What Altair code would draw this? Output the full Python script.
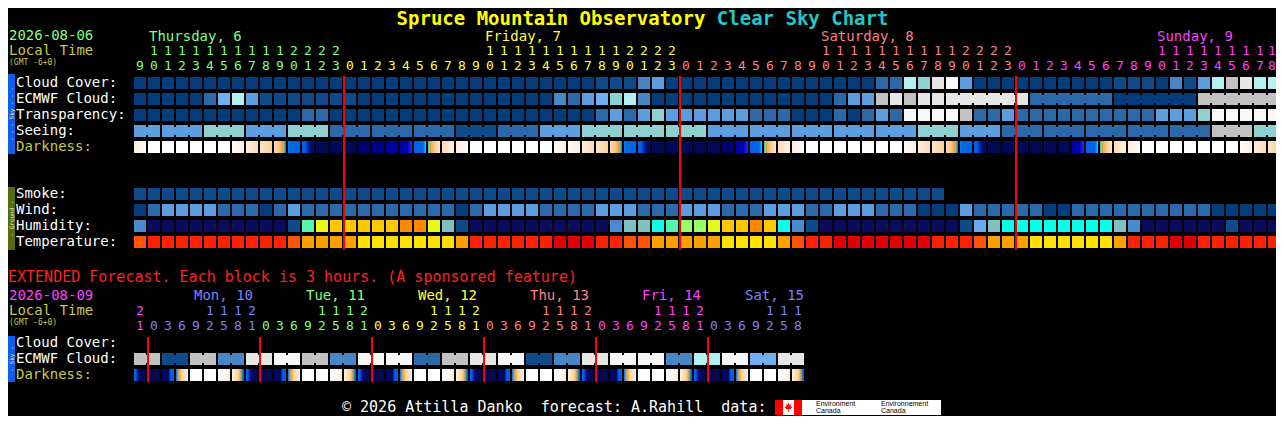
import altair as alt

# ============ chart values ============
TITLE_SITE = "Spruce Mountain Observatory"
TITLE_CHART = "Clear Sky Chart"
DATE_MAIN = "2026-08-06"
DATE_EXT = "2026-08-09"
LOCAL_TIME = "Local Time"
GMT_NOTE = "(GMT -6+0)"
EXT_NOTE = "EXTENDED Forecast. Each block is 3 hours. (A sponsored feature)"
FOOTER = "\u00a9 2026 Attilla Danko\u00a0\u00a0forecast: A.Rahill\u00a0\u00a0data:"
LOGO_EN = ["Environment", "Canada"]
LOGO_FR = ["Environnement", "Canada"]
SIDE_SKY = "- - - Sky - - -"
SIDE_GROUND = "- Ground -"
SIDE_EXT = "- Sky -"

DAYS_MAIN = ["Thursday, 6", "Friday, 7", "Saturday, 8", "Sunday, 9"]
HOURS_MAIN = [list(range(9, 24)), list(range(24)), list(range(24)), list(range(19))]

DAYS_EXT = ["", "Mon, 10", "Tue, 11", "Wed, 12", "Thu, 13", "Fri, 14", "Sat, 15"]
HOURS_EXT = [[21]] + [[0, 3, 6, 9, 12, 15, 18, 21] for _ in range(5)] + [[0, 3, 6, 9, 12, 15, 18]]

SKY_LABELS = ["Cloud Cover:", "ECMWF Cloud:", "Transparency:", "Seeing:", "Darkness:"]
GROUND_LABELS = ["Smoke:", "Wind:", "Humidity:", "Temperature:"]
EXT_LABELS = ["Cloud Cover:", "ECMWF Cloud:", "Darkness:"]

# hourly codes, Thu 09h .. Sun 18h (82 hours)
CLOUD_COVER = list("0" * 33 + "11134" + "0" * 15 + "22769W4" + "0" * 10 + "111031478977")
ECMWF_HOURLY = list("00000" + "2574" + "1" * 7 + "0" * 14 + "3245673" + "0" * 12 + "024489899")
ECMWF_6H = list("9208")
TRANSPARENCY = list("0" * 12 + "22" + "0" * 19 + "24246" + "4" * 6 + "222" + "000" + "20242"
                    + "WWWW" + "8" + "22" + "4" + "2" * 10 + "444" + "6" + "W" * 5)
SEEING_3H = list("4464622212466644444642222286")
DARKNESS = (["m1"] + ["W"] * 6 + ["c1", "c2", "c3", "ev", "B", "BN", "N", "N"]
            + ["N", "N2", "N3", "N4", "NB", "mB", "mo", "m2", "m1"] + ["W"] * 6
            + ["c1", "c1", "c2", "c3", "ev", "B", "BN", "N", "N"]
            + ["N", "N", "N", "N2", "NB", "mB", "mo", "m2", "m1"] + ["W"] * 7
            + ["c1", "c2", "c3", "ev", "B", "BN", "N", "N"]
            + ["N", "N", "N", "N", "NB", "mB", "mo", "m2", "m1"] + ["W"] * 7
            + ["c1", "c2", "c3"])
SMOKE = ["1"] * 58
WIND = list("0" + "2" + "4444" + "222" + "0" + "2" + "4" + "2" * 11 + "0" + "2" + "4444" + "2222"
            + "444" + "222" + "444" + "222" + "444" + "22" + "444" + "222" + "000" + "4"
            + "22222" + "00" + "2" * 10 + "00000")
HUMIDITY = list("b" + "n" * 10 + "d" + "a" + "y" + "o" * 5 + "rr" + "y" + "t" + "d" + "n" * 10
                + "b" + "tt" + "c" + "a" + "gg" + "y" + "oo" + "r" + "o" + "c" + "b" + "d"
                + "n" * 10 + "d" + "l" + "t" + "c" * 8 + "t" + "b" + "n" * 6 + "d" + "nnn")
TEMPERATURE = list("A" + "R" * 10 + "A" + "O" * 4 + "Y" * 7 + "O" + "R" * 6 + "D" * 3 + "RR" + "AA"
                   + "O" * 5 + "Y" * 4 + "O" + "A" + "RR" + "D" * 7 + "RRR" + "A" + "OOO"
                   + "Y" * 6 + "O" + "RRR" + "DD" + "R" * 6)

# extended forecast, 3-hour blocks, Sun 21h .. Sat 18h (48 blocks)
EXT_ECMWF_6H = ["8", "1", "8", "3", "9", "W", "8", "3", "W", "W", "2", "8",
                "9", "W", "1", "3", "9", "W", "W", "3", "7", "W", "5", "9"]
EXT_DARKNESS = (["X21"] + ["X0", "X3", "X6", "W", "W", "X15", "X18", "X21"] * 5
                + ["X0", "X3", "X6", "W", "W", "X15", "X18"])

# ============ styles ============
FONT = "DejaVu Sans Mono"
HEAD_SIZE = 14
DIGIT_SIZE = 13
TITLE_SIZE = 19
SIDE_SIZE = 6
CLOUD_PAL = {"0": "#033d7b", "1": "#0f4b8b", "2": "#2b69ab", "3": "#4886c8", "4": "#5c9de0",
             "5": "#70aef2", "6": "#8fd0d0", "7": "#b0f2f2", "8": "#c2c2c2", "9": "#e6e6e6",
             "W": "#f8f8f8"}
HUM_PAL = {"n": "#0b0b5e", "d": "#0d4a8a", "b": "#4a8ad0", "l": "#6aaaf0", "t": "#80c0c0",
           "c": "#0affe8", "a": "#55f5b0", "g": "#96ff6a", "y": "#e8f818", "o": "#ffc800",
           "r": "#ff8800"}
TEMP_PAL = {"A": "#ff5500", "R": "#ff2000", "D": "#e00000", "O": "#ffa000", "Y": "#ffe000"}
DARK_PAL = {
    "W": "#ffffff",
    "N": "#00085a", "N2": "#00006e", "N3": "#000088", "N4": "#00009e",
    "c1": [(0, "#fffaf4"), (1, "#fdeedd")],
    "c2": [(0, "#fdf0e0"), (1, "#fbdcb4")],
    "c3": [(0, "#fde6c6"), (1, "#f9cf98")],
    "ev": [(0, "#fcdcb0"), (0.5, "#f8c070"), (0.72, "#f0a030"), (0.82, "#a8c050"),
           (0.9, "#20a8e8"), (1, "#0a70e8")],
    "B": [(0, "#1080f0"), (0.2, "#0064e6"), (1, "#0064e6")],
    "BN": [(0, "#0064e6"), (0.3, "#0058e0"), (0.45, "#0030b8"), (0.7, "#000c78"), (1, "#00085c")],
    "NB": [(0, "#0000a8"), (0.6, "#0000b8"), (1, "#2030e0")],
    "mB": [(0, "#0064e6"), (0.75, "#0064e6"), (0.9, "#1898f0"), (1, "#40c0e0")],
    "mo": [(0, "#30c0e8"), (0.1, "#80d0a0"), (0.2, "#f0a030"), (0.5, "#f8c888"), (1, "#fde6cc")],
    "m2": [(0, "#fcdcb4"), (1, "#fdf0e0")],
    "m1": [(0, "#fdeedd"), (1, "#fffaf4")],
    "X0": "#00085a",
    "X21": [(0, "#0064e6"), (0.15, "#0064e6"), (0.3, "#0020a0"), (0.45, "#00085a"), (1, "#00085a")],
    "X3": [(0, "#00085a"), (0.55, "#00085a"), (0.62, "#0030c0"), (0.75, "#0064e6"), (1, "#0064e6")],
    "X6": [(0, "#0064e6"), (0.12, "#30b0f0"), (0.22, "#f0a030"), (0.55, "#fbd8a8"), (1, "#fff6ec")],
    "X15": [(0, "#ffffff"), (1, "#fff0e0")],
    "X18": [(0, "#fdeedc"), (0.5, "#fbd4a0"), (0.7, "#f0a030"), (0.8, "#40a8e0"),
            (0.9, "#0064e6"), (1, "#0064e6")],
}
GREEN, YELLOW, SALMON, MAGENTA, VIOLET = "#80ff80", "#ffff40", "#ff8080", "#ff40ff", "#8080ff"
OLIVE = "#c8c850"
MAIN_DAY_COLORS = [GREEN, YELLOW, SALMON, MAGENTA]
EXT_DAY_COLORS = [MAGENTA, VIOLET, GREEN, YELLOW, SALMON, MAGENTA, VIOLET]

# ============ layout (page pixels) ============
X0, COL_W = 134, 14
CELL = 12 / 14
ROW_H = 12
JOIN = 2
SKY_TOP = [77, 93, 109, 125, 141]
GROUND_TOP = [188, 204, 220, 236]
EXT_TOP = [337, 353, 369]
RIGHT_EDGE = 1276
LEFT_EDGE = 8
LABEL_X = 16
BAR_X2 = 15


def px(x):
    return (x - X0) / COL_W


XS = alt.Scale(domain=[px(8), px(1276)], range=[0, 1268], zero=False, nice=False)
YS = alt.Scale(domain=[8, 416], range=[0, 408], zero=False, nice=False)

rects = []


def add_rect(x, x2, y, y2, fill):
    rects.append({"x": x, "x2": x2, "y": y, "y2": y2, "fill": fill})


def paint(code, pal):
    v = pal[code]
    if isinstance(v, list):
        return {"gradient": "linear", "x1": 0, "y1": 0, "x2": 1, "y2": 0,
                "stops": [{"offset": o, "color": c} for o, c in v]}
    return v


def hourly_row(codes, top, pal):
    for i, code in enumerate(codes):
        add_rect(i, i + CELL, top, top + ROW_H, paint(code, pal))


def block_row(codes, lengths, top, pal, start=0):
    c = start
    for code, n in zip(codes, lengths):
        fill = paint(code, pal)
        for k in range(n):
            add_rect(c + k, c + k + CELL, top, top + ROW_H, fill)
            if k < n - 1:
                add_rect(c + k + CELL, c + k + 1, top + JOIN, top + ROW_H - JOIN, fill)
        c += n


# main sky rows
hourly_row(CLOUD_COVER, SKY_TOP[0], CLOUD_PAL)
hourly_row(ECMWF_HOURLY, SKY_TOP[1], CLOUD_PAL)
block_row(ECMWF_6H, [6] * len(ECMWF_6H), SKY_TOP[1], CLOUD_PAL, start=len(ECMWF_HOURLY))
hourly_row(TRANSPARENCY, SKY_TOP[2], CLOUD_PAL)
seeing_len = [2] + [3] * (len(SEEING_3H) - 2) + [2]
block_row(SEEING_3H, seeing_len, SKY_TOP[3], CLOUD_PAL)
hourly_row(DARKNESS, SKY_TOP[4], DARK_PAL)
# ground rows
hourly_row(SMOKE, GROUND_TOP[0], CLOUD_PAL)
hourly_row(WIND, GROUND_TOP[1], CLOUD_PAL)
hourly_row(HUMIDITY, GROUND_TOP[2], HUM_PAL)
hourly_row(TEMPERATURE, GROUND_TOP[3], TEMP_PAL)
# extended rows
block_row(EXT_ECMWF_6H, [2] * len(EXT_ECMWF_6H), EXT_TOP[1], CLOUD_PAL)
hourly_row(EXT_DARKNESS, EXT_TOP[2], DARK_PAL)

# side bars + logo background
FOOT_Y = 407
BAR_SPANS = [(74, 154, "#0a60ee"), (187, 250, "#556b0c"), (336, 382, "#0a60ee")]
deco = []
for y0, y1, col in BAR_SPANS:
    deco.append({"x": px(LEFT_EDGE), "x2": px(BAR_X2), "y": y0, "y2": y1, "fill": col})
deco.append({"x": px(775), "x2": px(941), "y": FOOT_Y - 7, "y2": FOOT_Y + 8, "fill": "#ffffff"})
deco.append({"x": px(775), "x2": px(783), "y": FOOT_Y - 7, "y2": FOOT_Y + 8, "fill": "#ff0000"})
deco.append({"x": px(794), "x2": px(802), "y": FOOT_Y - 7, "y2": FOOT_Y + 8, "fill": "#ff0000"})

# midnight red lines
red = []
c = 0
for hrs in HOURS_MAIN[:-1]:
    c += len(hrs)
    red.append({"x": c - 1 / 14, "x2": c + 1 / 14, "y": 76, "y2": 250})
c = 0
for hrs in HOURS_EXT[:-1]:
    c += len(hrs)
    red.append({"x": c - 1 / 14, "x2": c + 1 / 14, "y": 337, "y2": 382})

# texts
left = []   # left aligned, regular
mid = []    # centred digits


def L(x, y, text, color, size=HEAD_SIZE):
    left.append({"x": x, "y": y, "text": text, "color": color, "size": size})


def digit_x(col):
    # centre of the column, pulled in just enough to stay inside the visible page
    x = col + CELL / 2
    half = 0.3 * DIGIT_SIZE / COL_W
    return min(x, px(RIGHT_EDGE) - half - 0.02)


L(px(9), 36, DATE_MAIN, GREEN)
L(px(9), 51, LOCAL_TIME, OLIVE)
L(px(9), 62.5, GMT_NOTE, OLIVE, 8)
c = 0
for name, hrs, col in zip(DAYS_MAIN, HOURS_MAIN, MAIN_DAY_COLORS):
    L(c + hrs.index(10) + 1 / 14, 37, name, col)
    for k, h in enumerate(hrs):
        mid.append({"x": digit_x(c + k), "y": 66, "text": str(h % 10), "color": col})
        if h >= 10:
            mid.append({"x": digit_x(c + k), "y": 51, "text": str(h // 10), "color": col})
    c += len(hrs)
for lab, top in zip(SKY_LABELS, SKY_TOP):
    L(px(LABEL_X), top + 5.5, lab, OLIVE if lab == "Darkness:" else "#ffffff")
for lab, top in zip(GROUND_LABELS, GROUND_TOP):
    L(px(LABEL_X), top + 5.5, lab, "#ffffff")

L(px(8), 276.5, EXT_NOTE, "#ff2020", 15)
L(px(9), 296, DATE_EXT, MAGENTA)
L(px(9), 311, LOCAL_TIME, OLIVE)
L(px(9), 322.5, GMT_NOTE, OLIVE, 8)
EXT_NUDGE = [0, 0, 0, 0, 0, 0, -9 / 14]
c = 0
for name, hrs, col, nudge in zip(DAYS_EXT, HOURS_EXT, EXT_DAY_COLORS, EXT_NUDGE):
    if name:
        L(c + 3 + 4 / 14 + nudge, 296, name, col)
    for k, h in enumerate(hrs):
        mid.append({"x": digit_x(c + k), "y": 326, "text": str(h % 10), "color": col})
        if h >= 10:
            mid.append({"x": digit_x(c + k), "y": 310.5, "text": str(h // 10), "color": col})
    c += len(hrs)
for lab, top in zip(EXT_LABELS, EXT_TOP):
    L(px(LABEL_X), top + 5.5, lab, OLIVE if lab == "Darkness:" else "#ffffff")

L(px(342), FOOT_Y, FOOTER, "#ffffff", 15)

logo_txt = []
for x0, lines in ((816, LOGO_EN), (881, LOGO_FR)):
    logo_txt.append({"x": px(x0), "y": FOOT_Y - 3, "text": lines[0]})
    logo_txt.append({"x": px(x0), "y": FOOT_Y + 4, "text": lines[1]})

# title centred where the reference's title is centred
char_w = 0.602 * TITLE_SIZE
n_chars = len(TITLE_SITE) + 1 + len(TITLE_CHART)
t_start = 642.5 - n_chars * char_w / 2
title = [{"x": px(t_start), "y": 18.5, "text": TITLE_SITE, "color": "#ffff00"},
         {"x": px(t_start + char_w * (len(TITLE_SITE) + 1)), "y": 18.5, "text": TITLE_CHART,
          "color": "#20c8c8"}]

side_x = px((LEFT_EDGE + BAR_X2) / 2 + 0.1)
side = [{"x": side_x, "y": (BAR_SPANS[0][0] + BAR_SPANS[0][1]) / 2, "text": SIDE_SKY, "color": "#f0f040"},
        {"x": side_x, "y": (BAR_SPANS[1][0] + BAR_SPANS[1][1]) / 2, "text": SIDE_GROUND, "color": "#f0f0c0"},
        {"x": side_x, "y": (BAR_SPANS[2][0] + BAR_SPANS[2][1]) / 2, "text": SIDE_EXT, "color": "#f0f040"}]

leaf = [{"x": px(788.5), "y": FOOT_Y}]

# ============ chart ============
X = alt.X("x:Q", scale=XS, axis=None)
Y = alt.Y("y:Q", scale=YS, axis=None)
FILL = alt.Fill("fill:N", scale=None, legend=None)
COLOR = alt.Color("color:N", scale=None, legend=None)

rect_layer = alt.Chart(alt.Data(values=rects)).mark_rect().encode(
    x=X, x2="x2:Q", y=Y, y2="y2:Q", fill=FILL)
deco_layer = alt.Chart(alt.Data(values=deco)).mark_rect().encode(
    x=X, x2="x2:Q", y=Y, y2="y2:Q", fill=FILL)
red_layer = alt.Chart(alt.Data(values=red)).mark_rect(color="#ff0000").encode(
    x=X, x2="x2:Q", y=Y, y2="y2:Q")
left_layer = alt.Chart(alt.Data(values=left)).mark_text(
    align="left", baseline="middle", font=FONT).encode(
    x=X, y=Y, text="text:N", color=COLOR, size=alt.Size("size:Q", scale=None, legend=None))
mid_layer = alt.Chart(alt.Data(values=mid)).mark_text(
    align="center", baseline="middle", font=FONT, fontSize=DIGIT_SIZE).encode(
    x=X, y=Y, text="text:N", color=COLOR)
title_layer = alt.Chart(alt.Data(values=title)).mark_text(
    align="left", baseline="middle", font=FONT, fontSize=TITLE_SIZE, fontWeight="bold").encode(
    x=X, y=Y, text="text:N", color=COLOR)
side_layer = alt.Chart(alt.Data(values=side)).mark_text(
    align="center", baseline="middle", font=FONT, fontSize=SIDE_SIZE, angle=270).encode(
    x=X, y=Y, text="text:N", color=COLOR)
logo_layer = alt.Chart(alt.Data(values=logo_txt)).mark_text(
    align="left", baseline="middle", font="Liberation Sans", fontSize=7, color="#000000").encode(
    x=X, y=Y, text="text:N")
LEAF_PATH = ("M0,-1L0.25,-0.5L0.6,-0.7L0.5,-0.1L1,0L0.6,0.3L0.7,0.5L0.1,0.45L0.1,1L-0.1,1"
             "L-0.1,0.45L-0.7,0.5L-0.6,0.3L-1,0L-0.5,-0.1L-0.6,-0.7L-0.25,-0.5Z")
leaf_layer = alt.Chart(alt.Data(values=leaf)).mark_point(
    shape=LEAF_PATH, filled=True, size=70, color="#ff0000", opacity=1).encode(x=X, y=Y)

chart = alt.layer(
    rect_layer, deco_layer, red_layer, left_layer, mid_layer, title_layer,
    side_layer, logo_layer, leaf_layer
).properties(
    width=1268, height=408, padding=0, background="#000000",
    autosize=alt.AutoSizeParams(type="none"),
).configure_view(strokeWidth=0)

chart.save("out.html", embed_options={"renderer": "svg", "actions": False})
